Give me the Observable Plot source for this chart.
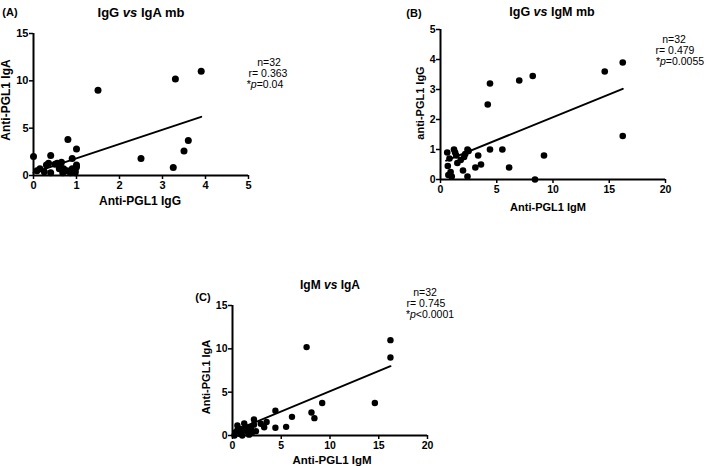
<!DOCTYPE html>
<html>
<head>
<meta charset="utf-8">
<script src="https://cdn.jsdelivr.net/npm/d3@7"></script>
<script src="https://cdn.jsdelivr.net/npm/@observablehq/plot@0.6"></script>
<style>
  html, body { margin: 0; padding: 0; background: #fff; }
  #root { position: relative; width: 709px; height: 466px; overflow: hidden; font-family: Arial, "Liberation Sans", sans-serif; color: #000; }
  .panel { position: absolute; }
  #overlay { position: absolute; left: 0; top: 0; }
</style>
</head>
<body>
<div id="root"></div>
<script>
// ---- Panel A: IgG (x) vs IgA (y)
const aIgG = [1.5, 3.3, 3.9, 2.5, 3.25, 3.5, 3.6, 0.8, 1.0, 0.0, 0.4, 0.9, 0.4, 0.08, 0.15, 0.3, 0.5, 0.62, 0.7, 0.78, 0.9, 0.97, 1.0, 0.68, 0.86, 0.97, 0.25, 0.6, 0.55, 0.65, 0.35, 1.0];
const aIgA = [9.0, 10.2, 11.0, 1.8, 0.85, 2.6, 3.7, 3.8, 2.8, 2.0, 2.1, 1.8, 0.3, 0.5, 0.7, 1.1, 1.2, 1.1, 0.7, 0.5, 0.7, 0.5, 0.9, 0.3, 0.3, 0.3, 0.4, 0.7, 1.3, 1.4, 1.3, 1.1];
const aFitX = [0, 3.9];
const aFitY = [0.30, 6.19];

// ---- Panel B: IgM (x) vs IgG (y)
const bIgM = [4.4, 7.0, 8.2, 14.6, 16.2, 4.2, 16.2, 5.5, 4.4, 9.2, 6.1, 8.4, 3.35, 3.6, 3.1, 2.4, 2.0, 0.6, 1.2, 2.4, 2.2, 1.4, 0.8, 0.65, 1.8, 2.1, 0.9, 1.0, 1.5, 2.5, 1.3, 0.7];
const bIgG = [3.2, 3.3, 3.45, 3.6, 3.9, 2.5, 1.45, 1.0, 1.0, 0.8, 0.4, 0.0, 0.8, 0.5, 0.4, 0.1, 0.3, 0.9, 1.0, 1.0, 0.85, 0.8, 0.7, 0.45, 0.65, 0.75, 0.25, 0.1, 0.55, 0.95, 0.9, 0.15];
const bFitX = [0.5, 16.2];
const bFitY = [0.63, 3.02];

// ---- Panel C: IgM (x) vs IgA (y)
const cIgM = [7.6, 16.2, 16.2, 14.6, 9.2, 8.1, 8.4, 6.1, 5.5, 4.4, 4.4, 3.5, 3.25, 2.9, 2.2, 2.2, 2.4, 1.2, 0.5, 0.85, 0.35, 1.2, 0.7, 1.55, 1.9, 1.0, 0.2, 1.4, 0.5, 1.7, 2.05, 0.85];
const cIgA = [10.2, 11.0, 9.0, 3.75, 3.75, 2.65, 2.0, 2.15, 1.0, 2.85, 0.9, 1.55, 0.95, 1.35, 1.85, 1.25, 0.5, 1.4, 1.15, 0.75, 0.4, 0.6, 0.2, 0.4, 0.95, 0.0, 0.0, 0.95, 0.6, 0.1, 0.4, 0.4];
const cFitX = [0.3, 16.2];
const cFitY = [0.58, 8.0];

// tick values
const ticksIgA = [0, 5, 10, 15];
const ticksIgG5 = [0, 1, 2, 3, 4, 5];
const ticksIgM = [0, 5, 10, 15, 20];
const ticksIgGy = [0, 1, 2, 3, 4, 5];

const FONT = 'Arial, "Liberation Sans", sans-serif';
const root = document.getElementById("root");
const zip = (xs, ys) => xs.map((x, i) => ({x, y: ys[i]}));

function panel({xs, ys, fx, fy, xDomain, yDomain, xTicks, yTicks, left, top, width, height, m, r, fs}) {
  const svg = Plot.plot({
    width, height,
    marginLeft: m[0], marginRight: m[1], marginTop: m[2], marginBottom: m[3],
    x: {domain: xDomain},
    y: {domain: yDomain},
    style: {fontFamily: FONT, background: "transparent", overflow: "visible", color: "#000"},
    marks: [
      Plot.axisX({ticks: xTicks, tickSize: 4, tickPadding: 2, fontSize: fs, fontWeight: "bold", label: null, strokeWidth: 1.5, tickFormat: d3.format("d")}),
      Plot.axisY({ticks: yTicks, tickSize: 4, tickPadding: 1, fontSize: fs, fontWeight: "bold", label: null, strokeWidth: 1.5, tickFormat: d3.format("d")}),
      Plot.ruleX([xDomain[0]], {strokeWidth: 2, stroke: "#000"}),
      Plot.ruleY([yDomain[0]], {strokeWidth: 2, stroke: "#000"}),
      Plot.line(zip(fx, fy), {x: "x", y: "y", stroke: "#000", strokeWidth: 2}),
      Plot.dot(zip(xs, ys), {x: "x", y: "y", r, fill: "#000", stroke: "none"})
    ]
  });
  svg.classList.add("panel");
  svg.style.left = left + "px";
  svg.style.top = top + "px";
  root.appendChild(svg);
}

// Panel A
panel({xs: aIgG, ys: aIgA, fx: aFitX, fy: aFitY, xDomain: [0, 5], yDomain: [0, 15],
  xTicks: ticksIgG5, yTicks: ticksIgA, left: 0, top: 0, width: 260, height: 215,
  m: [33, 12, 33, 40], r: 3.5, fs: 11});
// Panel B
panel({xs: bIgM, ys: bIgG, fx: bFitX, fy: bFitY, xDomain: [0, 20], yDomain: [0, 5],
  xTicks: ticksIgM, yTicks: ticksIgGy, left: 400, top: 0, width: 309, height: 220,
  m: [40, 44, 29, 41], r: 3.3, fs: 10.5});
// Panel C
panel({xs: cIgM, ys: cIgA, fx: cFitX, fy: cFitY, xDomain: [0, 20], yDomain: [0, 15],
  xTicks: ticksIgM, yTicks: ticksIgA, left: 190, top: 270, width: 280, height: 196,
  m: [42, 43, 35, 31], r: 3.2, fs: 10.5});

// text overlay
const ov = d3.select(root).append("svg").attr("id", "overlay")
  .attr("width", 709).attr("height", 466)
  .style("font-family", FONT);

function label(parts, x, y, size, bold = true, rotate = false) {
  const t = ov.append("text")
    .attr("text-anchor", "middle")
    .attr("dominant-baseline", "central")
    .attr("font-size", size)
    .attr("font-weight", bold ? "bold" : "normal")
    .attr("fill", "#000");
  if (rotate) t.attr("transform", `translate(${x},${y}) rotate(-90)`);
  else t.attr("x", x).attr("y", y);
  for (const p of parts) {
    const s = t.append("tspan").text(typeof p === "string" ? p : p.i);
    if (typeof p !== "string") s.attr("font-style", "italic");
  }
}

label(["(A)"], 10, 12, 11);
label(["IgG ", {i: "vs"}, " IgA mb"], 141, 12, 13);
label(["Anti-PGL1 IgA"], 6, 100, 12, true, true);
label(["Anti-PGL1 IgG"], 140, 201, 12);
label(["n=32"], 269, 62, 10.5, false);
label(["r= 0.363"], 268, 73, 10.5, false);
label(["*", {i: "p"}, "=0.04"], 265, 84, 10.5, false);

label(["(B)"], 414, 13, 11);
label(["IgG ", {i: "vs"}, " IgM mb"], 552, 12, 12.5);
label(["anti-PGL1 IgG"], 420, 103, 11, true, true);
label(["Anti-PGL1 IgM"], 548, 207, 11);
label(["n=32"], 674, 39, 10.5, false);
label(["r= 0.479"], 675, 50, 10.5, false);
label(["*", {i: "p"}, "=0.0055"], 680, 61, 10.5, false);

label(["(C)"], 203, 297, 11);
label(["IgM ", {i: "vs"}, " IgA"], 330, 285, 12);
label(["Anti-PGL1 IgA"], 206, 377, 11, true, true);
label(["Anti-PGL1 IgM"], 332, 460, 11.5);
label(["n=32"], 425, 292, 10.5, false);
label(["r= 0.745"], 426, 303, 10.5, false);
label(["*", {i: "p"}, "<0.0001"], 430, 314, 10.5, false);
</script>
</body>
</html>
